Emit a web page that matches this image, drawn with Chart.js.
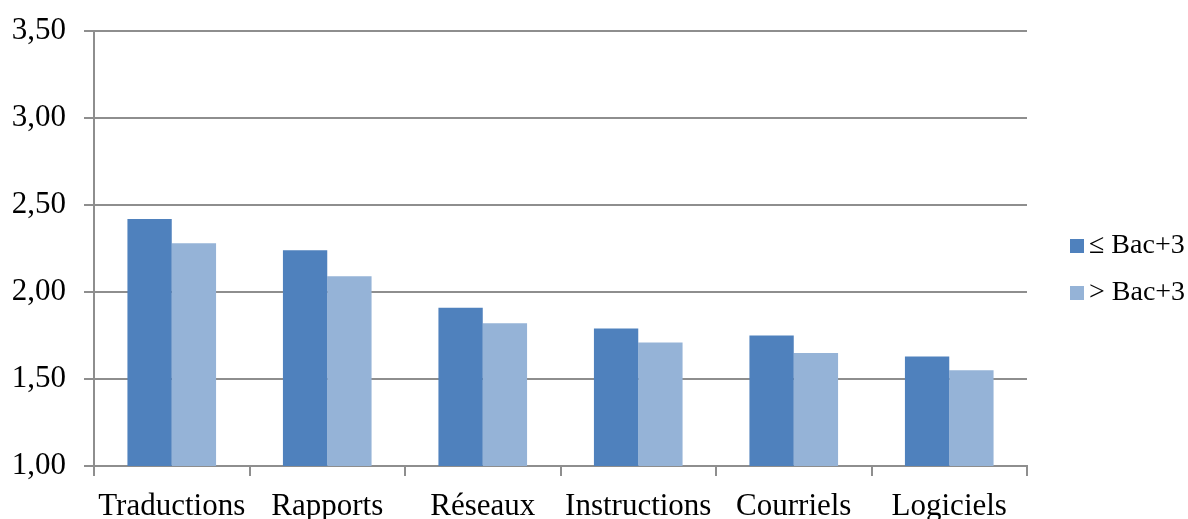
<!DOCTYPE html>
<html>
<head>
<meta charset="utf-8">
<script src="https://cdn.jsdelivr.net/npm/chart.js@4"></script>
<style>
  html, body { margin: 0; padding: 0; background: #fff; }
  #wrap { width: 1188px; height: 519px; }
</style>
</head>
<body>
<div id="wrap"><canvas id="chart"></canvas></div>
<script>
var categories = ["Traductions", "Rapports", "Réseaux", "Instructions", "Courriels", "Logiciels"];
var seriesNames = ["\u2264 Bac+3", "> Bac+3"];
var lowBac = [2.42, 2.24, 1.91, 1.79, 1.75, 1.63];
var highBac = [2.28, 2.09, 1.82, 1.71, 1.65, 1.55];
var colors = ["#4F81BD", "#95B3D7"];

var serif = "'Liberation Serif', 'Times New Roman', serif";
var gridColor = "#8E8E8E";

// legend drawn by hand so it can sit away from the plot like the original
var sideLegend = {
  id: "sideLegend",
  afterDraw: function(chart) {
    var ctx = chart.ctx;
    ctx.save();
    ctx.font = "28px " + serif;
    ctx.textBaseline = "middle";
    chart.data.datasets.forEach(function(ds, i) {
      var y = 246 + i * 47;
      ctx.fillStyle = ds.backgroundColor;
      ctx.fillRect(1070, y - 7, 14, 14);
      ctx.fillStyle = "#000";
      ctx.fillText(ds.label, 1089, y);
    });
    ctx.restore();
  }
};

var chart = new Chart(document.getElementById("chart"), {
  type: "bar",
  data: {
    labels: categories,
    datasets: [{
      label: seriesNames[0],
      data: lowBac,
      backgroundColor: colors[0]
    }, {
      label: seriesNames[1],
      data: highBac,
      backgroundColor: colors[1]
    }]
  },
  plugins: [sideLegend],
  options: {
    responsive: true,
    maintainAspectRatio: false,
    animation: false,
    categoryPercentage: 0.57,
    barPercentage: 1,
    layout: { padding: { top: 31, right: 161, left: 0, bottom: 0 } },
    plugins: {
      legend: { display: false },
      tooltip: { enabled: false }
    },
    scales: {
      x: {
        grid: {
          drawOnChartArea: false,
          drawTicks: true,
          tickLength: 10,
          color: gridColor,
          lineWidth: 2
        },
        border: { color: gridColor, width: 2 },
        ticks: {
          color: "#000",
          padding: 12,
          font: { family: serif, size: 31 }
        },
        afterFit: function(scale) { scale.height = 53; }
      },
      y: {
        min: 1,
        max: 3.5,
        grid: {
          color: gridColor,
          lineWidth: 2,
          tickLength: 10
        },
        border: { color: gridColor, width: 2 },
        ticks: {
          stepSize: 0.5,
          color: "#000",
          padding: 18,
          font: { family: serif, size: 31 },
          callback: function(v) { return v.toFixed(2).replace(".", ","); }
        },
        afterFit: function(scale) {
          scale.width = 94;
          scale.paddingTop = 0;
          scale.paddingBottom = 0;
        }
      }
    }
  }
});
</script>
</body>
</html>
